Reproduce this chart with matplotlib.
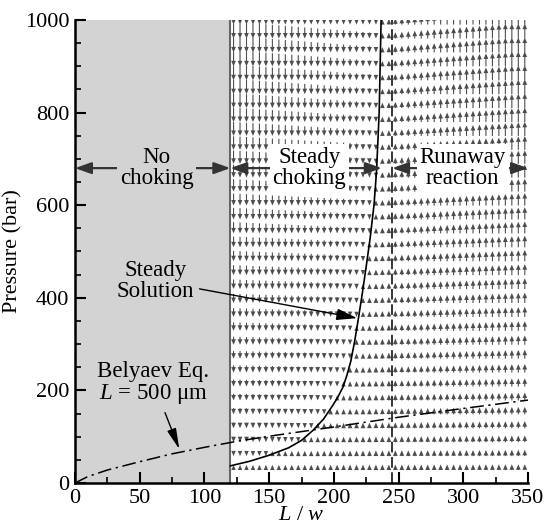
import numpy as np
import matplotlib
matplotlib.use("Agg")
import matplotlib.pyplot as plt
from matplotlib.ticker import MultipleLocator

plt.rcParams["font.family"] = ["Liberation Serif", "DejaVu Serif"]
plt.rcParams["mathtext.fontset"] = "custom"
plt.rcParams["mathtext.rm"] = "Liberation Serif"
plt.rcParams["mathtext.it"] = "Liberation Serif:italic"

# steady solution curve (L/w, pressure in bar)
steady_x = [120, 135, 150, 165, 175, 184, 192, 199, 203, 207, 210, 213, 216, 219,
            222, 225, 228, 231, 233, 235, 236.5]
steady_p = [37, 47, 60, 76, 92, 114, 138, 167, 185, 207, 232, 262, 305, 356,
            410, 468, 528, 600, 675, 800, 1000]

# Belyaev equation, L = 500 um
bel_x = [0, 10, 25, 50, 75, 100, 125, 150, 175, 200, 250, 300, 350]
bel_p = [0, 14, 28, 46, 63, 77, 90, 101, 111, 121, 142, 161, 179]

# regime boundaries
no_choke_end = 120
runaway_start = 245

# vector field grid
field_x = np.arange(122.5, 350, 5)
field_p = np.linspace(28, 990, 33)

fig = plt.figure(figsize=(5.47, 5.25), dpi=100)
ax = fig.add_axes([0.1371, 0.08, 0.8282, 0.882])

ax.axvspan(0, no_choke_end, color="#d3d3d3", lw=0, zorder=0)
ax.axvline(no_choke_end, color="0.4", lw=1.5, zorder=1)

# pressure rate: sign from side of the steady curve, grows with distance and pressure
X, P = np.meshgrid(field_x, field_p)
offset = X - np.interp(P, steady_p, steady_x)
head = 11.0
length = np.clip(head + np.abs(offset) * P * 2.3e-4, head, 32)
down = offset < 0
up = ~down

qkw = dict(angles="xy", scale_units="xy", scale=1, units="dots", width=1.1,
           headwidth=4.3, headlength=5, headaxislength=5, color="0.3", zorder=2)
ax.quiver(X[down], P[down], np.zeros(down.sum()), -length[down], pivot="tip", **qkw)
ax.quiver(X[up], P[up], np.zeros(up.sum()), length[up], pivot="tail", **qkw)

ax.axvline(runaway_start, color="k", lw=1.1, linestyle=(0, (7, 3)), zorder=3)

ax.plot(steady_x, steady_p, color="k", lw=1.2, zorder=4)
ax.plot(bel_x, bel_p, color="k", lw=1.1, linestyle=(0, (9, 3, 1.5, 3)), zorder=4)

# regime labels with double arrows
arrow_p = 680
regions = [
    ("No\nchoking", 0, 63, no_choke_end, "#d3d3d3"),
    ("Steady\nchoking", no_choke_end, 181, 237, "white"),
    ("Runaway\nreaction", runaway_start, 299.5, 350, "white"),
]
for label, x0, xc, x1, bg in regions:
    for xe in (x0, x1):
        ax.annotate("", xy=(xe, arrow_p), xytext=(xc, arrow_p),
                    arrowprops=dict(arrowstyle="-|>,head_length=0.7,head_width=0.25",
                                    color="0.2", lw=1.6, shrinkA=0, shrinkB=0,
                                    mutation_scale=14),
                    zorder=5)
    ax.text(xc, arrow_p, label, ha="center", va="center", fontsize=16.5,
            linespacing=1.0, zorder=6,
            bbox=dict(facecolor=bg, edgecolor="none", pad=2))

ax.annotate("Steady\nSolution", xy=(218, 356), xytext=(62, 437),
            ha="center", va="center", fontsize=16.5, linespacing=1.0, zorder=6,
            arrowprops=dict(arrowstyle="-|>,head_length=0.9,head_width=0.25",
                            color="k", lw=1.0, shrinkA=2, shrinkB=0,
                            mutation_scale=14))
ax.annotate("Belyaev Eq.\n$L$ = 500 μm", xy=(80.6, 73), xytext=(60.7, 215),
            ha="center", va="center", fontsize=16.5, linespacing=1.0, zorder=6,
            arrowprops=dict(arrowstyle="-|>,head_length=0.9,head_width=0.2",
                            color="k", lw=1.0, shrinkA=3, shrinkB=0,
                            mutation_scale=14))

ax.set_xlim(0, 350)
ax.set_ylim(0, 1000)
ax.xaxis.set_major_locator(MultipleLocator(50))
ax.xaxis.set_minor_locator(MultipleLocator(25))
ax.yaxis.set_major_locator(MultipleLocator(200))
ax.yaxis.set_minor_locator(MultipleLocator(50))
ax.tick_params(which="both", direction="in", top=False, right=False, labelsize=16)
ax.tick_params(which="major", length=8, width=1.5, pad=4)
ax.tick_params(which="minor", length=4, width=1.2)
for side in ("top", "right"):
    ax.spines[side].set_visible(False)
for side in ("left", "bottom"):
    ax.spines[side].set_linewidth(1.8)

ax.set_xlabel("$L$ / $w$", fontsize=16, labelpad=-1)
ax.set_ylabel("Pressure (bar)", fontsize=16, labelpad=2)

fig.savefig("out.png", dpi=100)
